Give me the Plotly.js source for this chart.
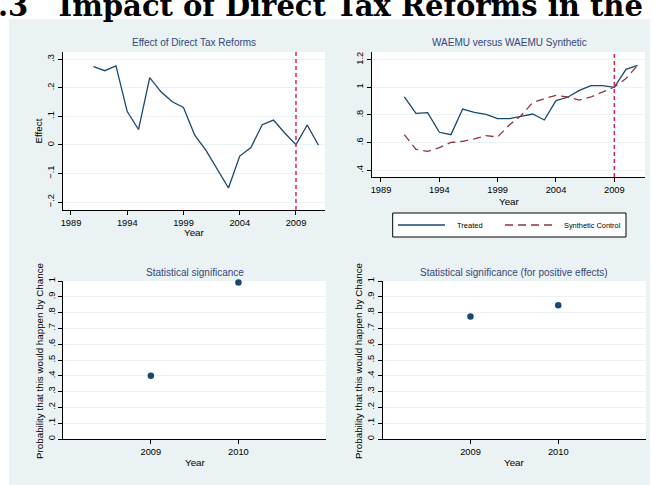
<!DOCTYPE html>
<html>
<head>
<meta charset="utf-8">
<script src="https://cdn.plot.ly/plotly-3.0.1.min.js"></script>
<style>html,body{margin:0;padding:0;background:#fff;}#chart{width:655px;height:485px;}</style>
</head>
<body>
<div id="chart"></div>
<script>
// ---- data ----
const years = [1991,1992,1993,1994,1995,1996,1997,1998,1999,2000,2001,2002,2003,2004,2005,2006,2007,2008,2009,2010,2011];
const effect = [0.274,0.26,0.277,0.117,0.054,0.236,0.186,0.151,0.131,0.034,-0.019,-0.083,-0.151,-0.039,-0.009,0.071,0.087,0.042,0.001,0.07,-0.001];
const treated = [0.93,0.812,0.817,0.675,0.658,0.843,0.819,0.805,0.773,0.773,0.79,0.807,0.764,0.904,0.928,0.978,1.012,1.012,1.0,1.13,1.159];
const synthetic = [0.658,0.552,0.537,0.564,0.602,0.61,0.627,0.651,0.641,0.728,0.795,0.889,0.918,0.942,0.93,0.908,0.93,0.966,1.002,1.063,1.159];
const reformYear = 2009;
const sigYears = [2009, 2010];
const sigAll = [0.40, 0.99];
const sigPositive = [0.776, 0.846];

const yearTicks = [1989,1994,1999,2004,2009];
const effectTicks = [-0.2,-0.1,0,0.1,0.2,0.3];
const effectTickText = ["\u2212.2","\u2212.1","0",".1",".2",".3"];
const levelTicks = [0.4,0.6,0.8,1,1.2];
const levelTickText = [".4",".6",".8","1","1.2"];
const probTicks = [0,0.1,0.2,0.3,0.4,0.5,0.6,0.7,0.8,0.9,1];
const probTickText = ["0",".1",".2",".3",".4",".5",".6",".7",".8",".9","1"];

const titles = ["Effect of Direct Tax Reforms","WAEMU versus WAEMU Synthetic","Statistical significance","Statistical significance (for positive effects)"];
const seriesNames = ["Treated", "Synthetic Control"];
const heading = ".3\u00a0\u00a0\u00a0Impact of Direct Tax Reforms in the";

// ---- styling ----
const W = 655, H = 485;
const FONT = "Liberation Sans, Arial, sans-serif";
const NAVY = "#1a476f", MAROON = "#90353b", VLINE = "#e0245a";
const BG = "#eaf2f3", TITLEC = "#34487a";
const px = v => v / W;
const py = v => 1 - v / H;

function axisBase(extra) {
  return Object.assign({
    showline: true, linecolor: "black", linewidth: 1,
    ticks: "outside", ticklen: 4, tickcolor: "black", tickwidth: 1,
    tickfont: {family: FONT, size: 9.3, color: "black"},
    zeroline: false, fixedrange: true
  }, extra);
}

const traces = [
  {x: years, y: effect, type: "scatter", mode: "lines", xaxis: "x", yaxis: "y",
   line: {color: NAVY, width: 1.3}},
  {x: years, y: treated, type: "scatter", mode: "lines", xaxis: "x2", yaxis: "y2",
   line: {color: NAVY, width: 1.3}, name: seriesNames[0]},
  {x: years, y: synthetic, type: "scatter", mode: "lines", xaxis: "x2", yaxis: "y2",
   line: {color: MAROON, width: 1.3, dash: "8px,5px"}, name: seriesNames[1]},
  {x: sigYears, y: sigAll, type: "scatter", mode: "markers", xaxis: "x3", yaxis: "y3",
   marker: {color: NAVY, size: 6.5}, cliponaxis: false},
  {x: sigYears, y: sigPositive, type: "scatter", mode: "markers", xaxis: "x4", yaxis: "y4",
   marker: {color: NAVY, size: 6.5}, cliponaxis: false}
];

function txt(text, x, y, size, color, extra) {
  return Object.assign({text: text, xref: "paper", yref: "paper", x: px(x), y: py(y),
    xanchor: "center", yanchor: "middle", showarrow: false,
    font: {family: FONT, size: size, color: color}}, extra || {});
}

const annotations = [
  {text: heading, xref: "paper", yref: "paper", x: px(-4), y: py(15), xanchor: "left", yanchor: "bottom", yshift: -10,
   showarrow: false, font: {family: "DejaVu Serif, serif", size: 29, color: "black", weight: "bold"}},
  txt(titles[0], 194, 42.7, 10, TITLEC),
  txt(titles[1], 509, 42.7, 10, TITLEC),
  txt(titles[2], 195, 272.7, 10, TITLEC),
  txt(titles[3], 514, 272.7, 10, TITLEC),
  txt("Year", 194, 232.5, 9.8, "black"),
  txt("Year", 509, 201, 9.8, "black"),
  txt("Year", 195, 462, 9.8, "black"),
  txt("Year", 514, 462, 9.8, "black"),
  txt("Effect", 38.5, 131, 9.8, "black", {textangle: -90}),
  txt("Probability that this would happen by Chance", 39, 361, 9.8, "black", {textangle: -90}),
  txt("Probability that this would happen by Chance", 358, 361, 9.8, "black", {textangle: -90}),
  txt(seriesNames[0], 455, 225, 7.5, "black", {xanchor: "left"}),
  txt(seriesNames[1], 562, 225, 7.4, "black", {xanchor: "left"})
];

const shapes = [
  // white page margins around the light background
  {type: "rect", xref: "paper", yref: "paper", x0: 0, x1: 1, y0: py(19), y1: 1, fillcolor: "#ffffff", line: {width: 0}, layer: "below"},
  {type: "rect", xref: "paper", yref: "paper", x0: 0, x1: px(9), y0: 0, y1: 1, fillcolor: "#ffffff", line: {width: 0}, layer: "below"},
  {type: "rect", xref: "paper", yref: "paper", x0: px(650), x1: 1, y0: 0, y1: 1, fillcolor: "#ffffff", line: {width: 0}, layer: "below"},
  // reform year markers
  {type: "line", xref: "x", yref: "y domain", x0: reformYear, x1: reformYear, y0: 0, y1: 1,
   line: {color: VLINE, width: 1.5, dash: "4px,3px"}},
  {type: "line", xref: "x2", yref: "y2 domain", x0: reformYear, x1: reformYear, y0: 0, y1: 1,
   line: {color: VLINE, width: 1.5, dash: "4px,3px"}},
  // legend box and keys
  {type: "rect", xref: "paper", yref: "paper", x0: px(392.7), x1: px(626), y0: py(237), y1: py(213),
   fillcolor: "#ffffff", line: {color: "black", width: 1}},
  {type: "line", xref: "paper", yref: "paper", x0: px(398), x1: px(445), y0: py(225), y1: py(225),
   line: {color: NAVY, width: 1.3}},
  {type: "line", xref: "paper", yref: "paper", x0: px(505), x1: px(552), y0: py(225), y1: py(225),
   line: {color: MAROON, width: 1.3, dash: "8px,5px"}}
];

const layout = {
  width: W, height: H, autosize: false,
  margin: {l: 0, r: 0, t: 0, b: 0, pad: 0},
  paper_bgcolor: BG, plot_bgcolor: "#ffffff",
  font: {family: FONT, color: "black"},
  showlegend: false,
  xaxis: axisBase({domain: [px(63), px(325)], range: [1988.29, 2011.58], tickvals: yearTicks, anchor: "y", showgrid: false}),
  yaxis: axisBase({domain: [py(210), py(52)], range: [-0.228, 0.3256], tickvals: effectTicks, ticktext: effectTickText,
                   tickangle: -90, anchor: "x", showgrid: true, gridcolor: BG, gridwidth: 1}),
  xaxis2: axisBase({domain: [px(372), px(645)], range: [1988.23, 2011.63], tickvals: yearTicks, anchor: "y2", showgrid: false}),
  yaxis2: axisBase({domain: [py(177), py(52)], range: [0.352, 1.255], tickvals: levelTicks, ticktext: levelTickText,
                    tickangle: -90, anchor: "x2", showgrid: true, gridcolor: BG, gridwidth: 1}),
  xaxis3: axisBase({domain: [px(63.3), px(326)], range: [2008, 2011], tickvals: sigYears, anchor: "y3", showgrid: false}),
  yaxis3: axisBase({domain: [py(439), py(281)], range: [0, 1], tickvals: probTicks, ticktext: probTickText,
                    tickangle: -90, anchor: "x3", showgrid: true, gridcolor: BG, gridwidth: 1}),
  xaxis4: axisBase({domain: [px(382.7), px(646)], range: [2008, 2011], tickvals: sigYears, anchor: "y4", showgrid: false}),
  yaxis4: axisBase({domain: [py(439), py(281)], range: [0, 1], tickvals: probTicks, ticktext: probTickText,
                    tickangle: -90, anchor: "x4", showgrid: true, gridcolor: BG, gridwidth: 1}),
  annotations: annotations,
  shapes: shapes
};

Plotly.newPlot("chart", traces, layout, {staticPlot: true, displayModeBar: false});
</script>
</body>
</html>
